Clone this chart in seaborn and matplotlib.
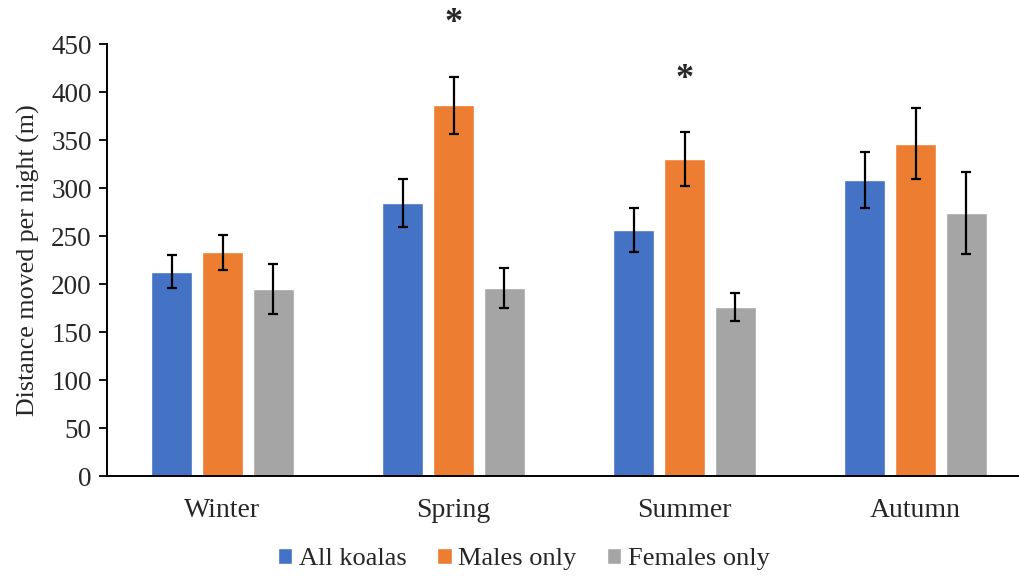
import seaborn as sns
import matplotlib.pyplot as plt
import pandas as pd

# values
seasons = ['Winter', 'Spring', 'Summer', 'Autumn']
groups = ['All koalas', 'Males only', 'Females only']
all_mean = [213, 284, 256, 308]
male_mean = [233, 386, 330, 346]
female_mean = [195, 196, 176, 274]
all_err = [17, 25, 23, 29]
male_err = [18, 30, 28, 37]
female_err = [26, 21, 15, 43]
signif = ['', '*', '*', '']
colors = ['#4472C4', '#ED7D31', '#A5A5A5']

df = pd.DataFrame({
    'season': seasons * 3,
    'group': [g for g in groups for _ in seasons],
    'dist': all_mean + male_mean + female_mean,
})
errs = [all_err, male_err, female_err]

sns.set_style('white')
plt.rcParams['font.family'] = ['Liberation Serif', 'DejaVu Serif']

fig = plt.figure(figsize=(10.19, 5.76), dpi=100)
ax = fig.add_axes([107 / 1019, 1 - 476 / 576, 912 / 1019, 432 / 576])

sns.barplot(data=df, x='season', y='dist', hue='group', order=seasons,
            hue_order=groups, palette=colors, width=0.66, gap=0.2,
            errorbar=None, saturation=1, ax=ax)

# error bars and significance marks
bar_conts = list(ax.containers)
for k, cont in enumerate(bar_conts):
    xs = [p.get_x() + p.get_width() / 2 for p in cont.patches]
    ys = [p.get_height() for p in cont.patches]
    ax.errorbar(xs, ys, yerr=errs[k], fmt='none', ecolor='black',
                elinewidth=1.6, capsize=3.8, capthick=1.6)
    if k == 1:
        for x, y, e, s in zip(xs, ys, errs[k], signif):
            if s:
                ax.text(x, y + e + 55, s, ha='center', va='center',
                        fontsize=26, fontweight='bold', clip_on=False)

ax.set_ylim(0, 450)
ax.set_xlim(-0.5, 3.448)
ax.set_yticks(range(0, 451, 50))
ax.set_xlabel('')
ax.set_ylabel('Distance moved per night (m)', fontsize=18.7, labelpad=8)
ax.tick_params(axis='y', labelsize=19.5, direction='out', length=6, width=1.3,
               left=True, pad=5, color='black')
ax.tick_params(axis='x', labelsize=20, bottom=False, pad=12)
sns.despine(ax=ax)
for sp in ['left', 'bottom']:
    ax.spines[sp].set_color('black')
    ax.spines[sp].set_linewidth(1.4)

ax.legend(loc='upper center', bbox_to_anchor=(0.457, -0.142), ncol=3,
          frameon=False, fontsize=19, handlelength=0.55, handleheight=0.55,
          handletextpad=0.25, columnspacing=1.15, borderaxespad=0)

fig.savefig('out.png', dpi=100)
